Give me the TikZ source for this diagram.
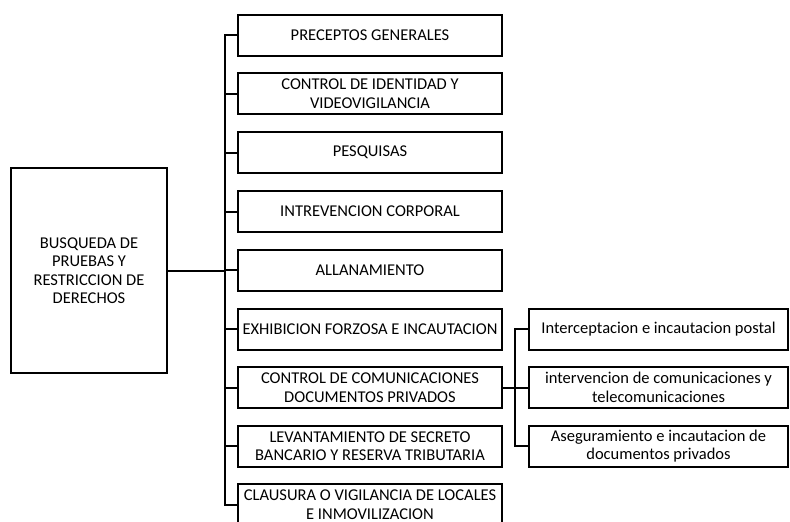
\documentclass[tikz,border=0pt]{standalone}
\usepackage{fontspec}
\setmainfont{Carlito}
\usetikzlibrary{positioning, calc}
\tikzset{
  boxfont/.style={font=\fontsize{16.5}{18.5}\selectfont},
  mainbox/.style={draw, boxfont, line width=2pt, minimum width=156pt, minimum height=205pt, inner sep=0pt, align=center},
  topicbox/.style={draw, boxfont, line width=2pt, minimum width=264pt, minimum height=41pt, inner sep=0pt, align=center},
  subbox/.style={draw, boxfont, line width=2pt, minimum width=259pt, minimum height=41pt, inner sep=0pt, align=center},
  link/.style={line width=2pt}
}

\begin{document}
\begin{tikzpicture}[x=1pt, y=-1pt]
\path[use as bounding box] (0,0) rectangle (790,522);
\clip (0,0) rectangle (790,522);

% Main box
\node[mainbox] (root) at (89,270.5) {BUSQUEDA DE\\PRUEBAS Y\\RESTRICCION DE\\DERECHOS};

% Topics
\node[topicbox] (t1) at (370,35) {PRECEPTOS GENERALES};
\node[topicbox] (t2) at (370,93.5) {CONTROL DE IDENTIDAD Y\\VIDEOVIGILANCIA};
\node[topicbox] (t3) at (370,152.5) {PESQUISAS};
\node[topicbox] (t4) at (370,211.5) {INTREVENCION CORPORAL};
\node[topicbox] (t5) at (370,270) {ALLANAMIENTO};
\node[topicbox] (t6) at (370,329) {EXHIBICION FORZOSA E INCAUTACION};
\node[topicbox] (t7) at (370,387.5) {CONTROL DE COMUNICACIONES\\DOCUMENTOS PRIVADOS};
\node[topicbox] (t8) at (370,446) {LEVANTAMIENTO DE SECRETO\\BANCARIO Y RESERVA TRIBUTARIA};
\node[topicbox] (t9) at (370,504.5) {CLAUSURA O VIGILANCIA DE LOCALES\\E INMOVILIZACION};

% Sub topics
\node[subbox] (s1) at (658.5,329) {Interceptacion e incautacion postal};
\node[subbox] (s2) at (658.5,387.5) {intervencion de comunicaciones y\\telecomunicaciones};
\node[subbox] (s3) at (658.5,446) {Aseguramiento e incautacion de\\documentos privados};

% Connectors
\coordinate (trunk) at (225,0);
\coordinate (subtrunk) at (515,0);
\draw[link] (root.east) -- (root.east -| trunk);
\draw[link] (t1.west) -- (t1.west -| trunk) -- (t9.west -| trunk) -- (t9.west);
\foreach \t in {t2,t3,t4,t5,t6,t7,t8}
  \draw[link] (\t.west) -- (\t.west -| trunk);
\draw[link] (t7.east) -- (t7.east -| subtrunk);
\draw[link] (s1.west) -- (s1.west -| subtrunk) -- (s3.west -| subtrunk) -- (s3.west);
\draw[link] (s2.west) -- (s2.west -| subtrunk);
\end{tikzpicture}
\end{document}
